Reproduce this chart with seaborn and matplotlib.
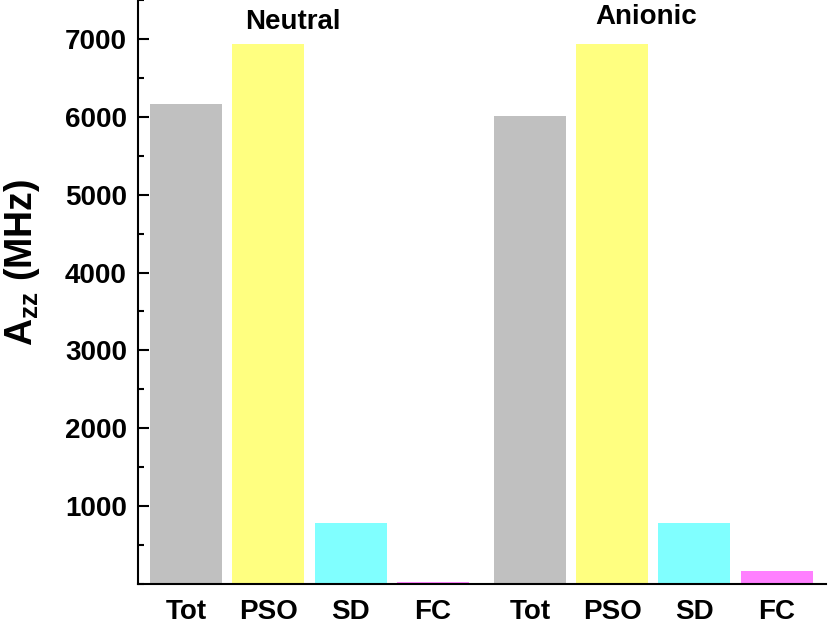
import matplotlib
matplotlib.use("Agg")
import matplotlib.pyplot as plt
from matplotlib.ticker import MultipleLocator
import pandas as pd
import seaborn as sns

COMPONENTS = ["Tot", "PSO", "SD", "FC"]
GROUPS = ["Neutral", "Anionic"]
NEUTRAL = [6160, 6940, 785, 30]
ANIONIC = [6010, 6940, 785, 168]

COLORS = {"Tot": "#C0C0C0", "PSO": "#FFFF80", "SD": "#80FFFF", "FC": "#FF80FF"}
GROUP_GAP = 0.18

sns.set_style("ticks")
plt.rcParams["font.family"] = ["Liberation Sans", "DejaVu Sans"]
plt.rcParams["font.weight"] = "bold"
plt.rcParams["text.color"] = "black"
plt.rcParams["axes.labelcolor"] = "black"
plt.rcParams["xtick.color"] = "black"
plt.rcParams["ytick.color"] = "black"
plt.rcParams["axes.edgecolor"] = "black"
plt.rcParams["mathtext.fontset"] = "custom"
plt.rcParams["mathtext.rm"] = "Liberation Sans:bold"
plt.rcParams["mathtext.bf"] = "Liberation Sans:bold"

rows = []
for g, (group, values) in enumerate(zip(GROUPS, [NEUTRAL, ANIONIC])):
    for i, (comp, val) in enumerate(zip(COMPONENTS, values)):
        pos = g * (len(COMPONENTS) + GROUP_GAP) + i
        rows.append({"group": group, "component": comp, "pos": pos, "value": val})
df = pd.DataFrame(rows)

fig = plt.figure(figsize=(8.3, 6.24), dpi=100)
ax = fig.add_axes([138 / 830, 40 / 624, 688 / 830, 584 / 624])

sns.barplot(
    data=df, x="pos", y="value", hue="component", palette=COLORS,
    native_scale=True, width=0.875, dodge=False, legend=False,
    saturation=1, linewidth=0, ax=ax,
)

ax.set_xlim(df["pos"].min() - 0.585, df["pos"].max() + 0.6)
ax.set_ylim(0, 7500)
ax.set_xticks(df["pos"])
ax.set_xticklabels(df["component"], fontsize=20, fontweight="bold")
ax.tick_params(axis="x", length=0, pad=11)
ax.yaxis.set_major_locator(MultipleLocator(1000))
ax.yaxis.set_minor_locator(MultipleLocator(500))
ax.set_yticks(range(1000, 8000, 1000))
ax.tick_params(axis="y", which="major", direction="in", length=8, width=1.5,
               labelsize=20, pad=8)
ax.tick_params(axis="y", which="minor", direction="in", length=4.5, width=1.5)
for lab in ax.get_yticklabels():
    lab.set_fontweight("bold")

ax.set_xlabel("")
ax.set_ylabel(r"A$_{\mathbf{zz}}$ (MHz)", fontsize=27, fontweight="bold")
ax.yaxis.set_label_coords(-0.14, (584 - 262) / 584)

sns.despine(ax=ax, top=True, right=True)
ax.spines["left"].set_linewidth(1.5)
ax.spines["bottom"].set_linewidth(1.5)

ax.text(0.225, 0.962, "Neutral", transform=ax.transAxes, ha="center", va="center",
        fontsize=20, fontweight="bold")
ax.text(0.738, 0.971, "Anionic", transform=ax.transAxes, ha="center", va="center",
        fontsize=20, fontweight="bold")

fig.savefig("out.png", dpi=100)
